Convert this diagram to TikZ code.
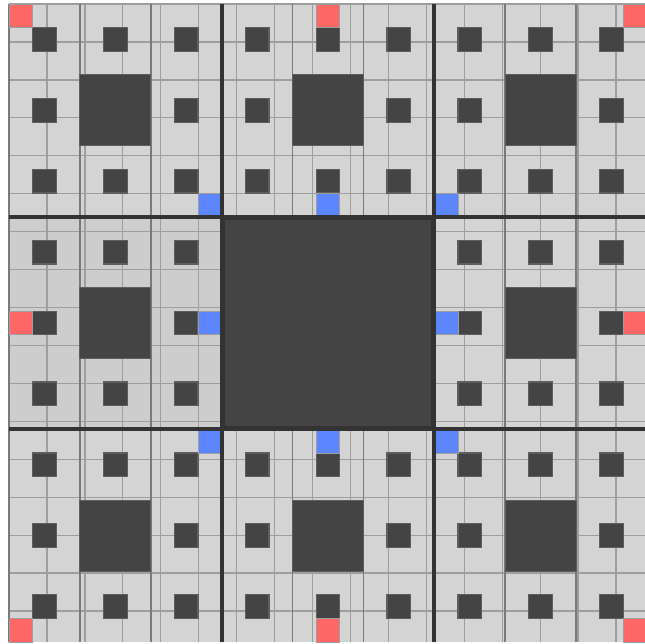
\documentclass[tikz,border=0pt]{standalone}
\usepackage{xcolor}
\usepackage{tikz}
\definecolor{cellgray}{HTML}{D4D4D4}
\definecolor{cellshade}{HTML}{CDCDCD}
\definecolor{hole}{HTML}{444444}
\definecolor{holeedge}{HTML}{5E5E5E}
\definecolor{gridline}{HTML}{9E9E9E}
\definecolor{subline}{HTML}{7A7A7A}
\definecolor{blockline}{HTML}{333333}
\definecolor{hotred}{HTML}{FF6666}
\definecolor{hotblue}{HTML}{5B86FF}

\begin{document}
\begin{tikzpicture}[
  x=17.72pt,y=-17.72pt,
  cell/.style={draw=gridline,line width=1pt},
  sub/.style={draw=subline,line width=1.4pt},
  holecell/.style={fill=hole,draw=holeedge,line width=0.9pt},
  redcell/.style={fill=hotred,draw=gridline,line width=0.6pt},
  bluecell/.style={fill=hotblue,draw=gridline,line width=0.6pt},
  blk/.style={draw=blockline,line width=3pt}]
  \useasboundingbox (-0.381,-0.169) rectangle (26.915,27.08);
  \clip (-0.381,-0.169) rectangle (26.915,27.08);
  \fill[white] (-0.381,-0.169) rectangle (26.915,27.08);
  % base cells
  \fill[cellgray] (0,0) rectangle (27,27);
  \fill[cellshade] (0,9) rectangle (9,18);
  \draw[cell] (0,0) grid (27,27);
  \draw[sub] (0,0) grid[step=3] (27,27);
  % smallest holes
  \foreach \a in {0,...,8}
    \foreach \b in {0,...,8}
      \draw[holecell] (3*\a+1,3*\b+1) rectangle +(1,1);
  % holes of each block
  \foreach \a in {0,1,2}
    \foreach \b in {0,1,2}
      \draw[holecell] (9*\a+3,9*\b+3) rectangle +(3,3);
  % marked cells
  \foreach \p/\q in {0/0,13/0,26/0,0/13,26/13,0/26,13/26,26/26}
    \draw[redcell] (\p,\q) rectangle +(1,1);
  \foreach \p/\q in {8/8,13/8,18/8,8/13,18/13,8/18,13/18,18/18}
    \draw[bluecell] (\p,\q) rectangle +(1,1);
  % block borders and centre
  \draw[blk] (9,0) -- (9,27) (18,0) -- (18,27) (0,9) -- (27,9) (0,18) -- (27,18);
  \fill[hole] (9,9) rectangle (18,18);
  \draw[blockline,line width=1.2pt] (9.12,9.12) rectangle (17.88,17.88);
  \draw[blk] (9,9) rectangle (18,18);
\end{tikzpicture}
\end{document}
